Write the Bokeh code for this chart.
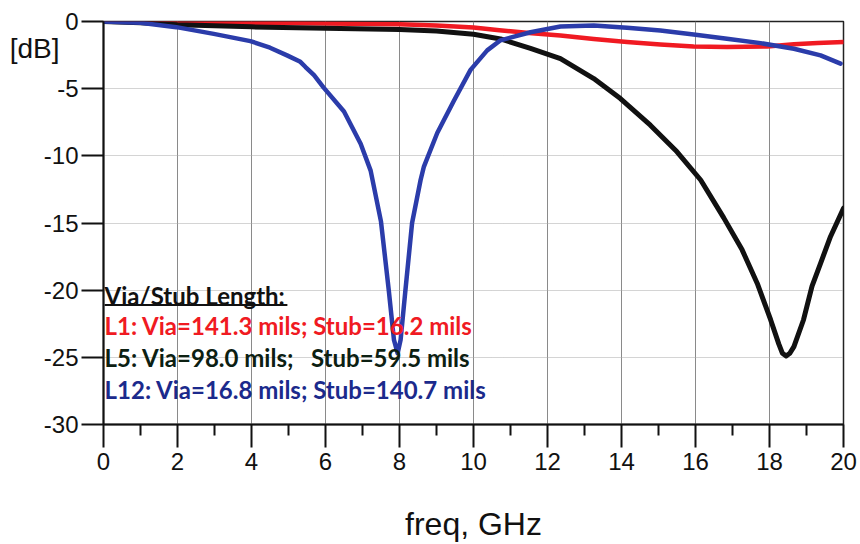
from bokeh.plotting import figure
from bokeh.models import FixedTicker, LinearAxis, PrintfTickFormatter
from bokeh.core.properties import value
from bokeh.embed import file_html
from bokeh.resources import INLINE

# ---- data ----
l1_freq = [0, 2, 4, 6, 8, 9, 10, 10.7, 11.5, 12.35, 13.25, 14.15, 15.05, 15.95, 16.85, 17.94,
           18.66, 19.3, 20]
l1_db = [0, -0.05, -0.1, -0.15, -0.2, -0.3, -0.45, -0.65, -0.85, -1.04, -1.3, -1.53, -1.72,
         -1.86, -1.9, -1.86, -1.7, -1.6, -1.52]

l5_freq = [0, 1, 2, 4, 6, 8, 9, 10, 10.73, 11.54, 12.35, 13.25, 13.97, 14.78, 15.5, 16.14,
           16.76, 17.26, 17.67, 18.03, 18.25, 18.35, 18.45, 18.55, 18.66, 18.92, 19.15, 19.38,
           19.65, 20]
l5_db = [0, -0.1, -0.25, -0.4, -0.5, -0.6, -0.7, -0.95, -1.3, -2.0, -2.77, -4.25, -5.74, -7.72,
         -9.7, -11.8, -14.6, -17.0, -19.5, -22.2, -24.0, -24.7, -24.9, -24.7, -24.2, -22.2,
         -19.7, -18.0, -16.0, -13.9]

l12_freq = [0, 1, 1.97, 2.98, 3.97, 4.5, 4.96, 5.32, 5.46, 5.69, 5.95, 6.5, 6.95, 7.22, 7.5,
            7.71, 7.85, 7.95, 8.03, 8.16, 8.34, 8.57, 8.66, 9.02, 9.47, 9.92, 10.37, 10.73,
            11.54, 12.35, 13.25, 14.15, 15.05, 15.95, 16.85, 17.76, 18.66, 19.38, 19.92]
l12_db = [0, -0.1, -0.42, -0.92, -1.46, -1.95, -2.52, -3.0, -3.39, -4.0, -4.92, -6.7, -9.1,
          -11.1, -14.9, -20.0, -23.7, -24.7, -23.7, -20.0, -15.0, -11.8, -10.8, -8.3, -5.9,
          -3.6, -2.15, -1.4, -0.8, -0.37, -0.3, -0.47, -0.67, -0.97, -1.29, -1.61, -2.03,
          -2.52, -3.14]

x_ticks = [0, 2, 4, 6, 8, 10, 12, 14, 16, 18, 20]
x_minor = [1, 3, 5, 7, 9, 11, 13, 15, 17, 19]
y_ticks = [-30, -25, -20, -15, -10, -5, 0]
y_unit_pos = -2.0
y_unit_text = "[dB]"
x_title = "freq, GHz"

legend_title = "Via/Stub Length:"
legend_lines = ["L1: Via=141.3 mils; Stub=16.2 mils",
                "L5: Via=98.0 mils;\u00a0\u00a0\u00a0Stub=59.5 mils",
                "L12: Via=16.8 mils; Stub=140.7 mils"]
legend_colors = ["#f01a22", "#0c2012", "#1b2a8c"]
legend_title_y = -20.4
legend_y = [-22.6, -25.0, -27.4]
legend_x = 0.03
underline_y = -21.1
underline_end = 4.97

RED = "#f01a22"
BLACK = "#111111"
BLUE = "#2b3caa"

p = figure(width=860, height=544, x_range=(0, 20), y_range=(-30, 0),
           output_backend="svg", toolbar_location=None,
           min_border_left=103, min_border_right=17, min_border_top=21, min_border_bottom=119)
p.background_fill_color = "white"
p.border_fill_color = "white"
p.outline_line_color = "#222222"
p.outline_line_width = 1.5

# axes
p.xaxis.ticker = FixedTicker(ticks=x_ticks, minor_ticks=x_minor)
p.yaxis.ticker = FixedTicker(ticks=y_ticks, minor_ticks=[])
p.xaxis.formatter = PrintfTickFormatter(format="%d")
p.yaxis.formatter = PrintfTickFormatter(format="%d")
for ax in (p.xaxis[0], p.yaxis[0]):
    ax.axis_line_color = "#111111"
    ax.axis_line_width = 2
    ax.major_tick_line_color = "#111111"
    ax.major_tick_line_width = 2
    ax.minor_tick_line_color = "#111111"
    ax.minor_tick_line_width = 2
    ax.major_tick_in = 0
    ax.minor_tick_in = 0
    ax.major_label_text_font = "Liberation Sans"
    ax.major_label_text_font_size = "24px"
    ax.major_label_text_color = "#111111"
p.xaxis.major_tick_out = 23
p.xaxis.minor_tick_out = 11
p.xaxis.major_label_standoff = 5
p.yaxis.major_tick_out = 22
p.yaxis.minor_tick_out = 0
p.yaxis.major_label_standoff = 3

p.xaxis.axis_label = x_title
p.xaxis.axis_label_text_font = "Liberation Sans"
p.xaxis.axis_label_text_font_style = "normal"
p.xaxis.axis_label_text_font_size = "32px"
p.xaxis.axis_label_text_color = "#111111"
p.xaxis.axis_label_standoff = 33

# unit label "[dB]" as an outer, line-less left axis
unit_axis = LinearAxis(ticker=FixedTicker(ticks=[y_unit_pos], minor_ticks=[]),
                       major_label_overrides={y_unit_pos: y_unit_text})
unit_axis.axis_line_color = None
unit_axis.major_tick_line_color = None
unit_axis.minor_tick_line_color = None
unit_axis.major_tick_out = 0
unit_axis.major_tick_in = 0
unit_axis.major_label_standoff = -19
unit_axis.major_label_text_font = "Liberation Sans"
unit_axis.major_label_text_font_size = "28px"
unit_axis.major_label_text_color = "#111111"
p.add_layout(unit_axis, "left")

# grids
p.xgrid.grid_line_color = "#8a8a8a"
p.xgrid.grid_line_width = 1
p.ygrid.grid_line_color = "#a8a8a8"
p.ygrid.grid_line_width = 1
p.ygrid.grid_line_dash = "1 1"

# curves
p.line(l1_freq, l1_db, line_color=RED, line_width=4.5, line_join="round", line_cap="round")
p.line(l5_freq, l5_db, line_color=BLACK, line_width=5, line_join="round", line_cap="round")
p.line(l12_freq, l12_db, line_color=BLUE, line_width=4.5, line_join="round", line_cap="round")

# legend-like text block
p.text(x=[legend_x], y=[legend_title_y], text=[legend_title], text_font=value("Lato"),
       text_font_style="bold", text_font_size="24px", text_color="#111111",
       text_baseline="middle", text_align="left")
p.segment(x0=[legend_x], y0=[underline_y], x1=[underline_end], y1=[underline_y],
          line_color="#111111", line_width=2)
p.text(x=[legend_x] * 3, y=legend_y, text=legend_lines, text_font=value("Lato"),
       text_font_style="bold", text_font_size="24px", text_color=legend_colors,
       text_baseline="middle", text_align="left")

open("out.html", "w").write(file_html(p, INLINE))
